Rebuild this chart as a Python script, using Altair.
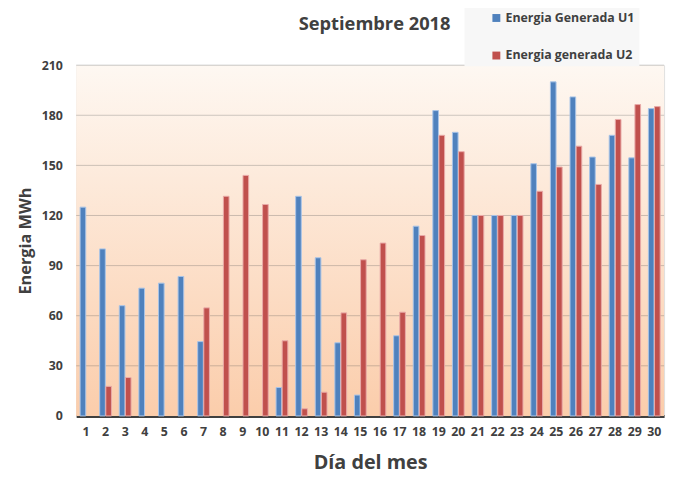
import altair as alt
import pandas as pd

title_text = "Septiembre 2018"
series = ["Energia Generada U1", "Energia generada U2"]
days = list(range(1, 31))
u1 = [125, 100, 66, 76.5, 79.5, 83.5, 44.5, None, None, None,
      17, 131.5, 94.7, 43.8, 12.5, None, 48, 113.6, 182.8, 169.8,
      120, 120, 120, 151, 200, 191, 155, 168, 154.5, 184]
u2 = [None, 17.7, 23, None, None, None, 64.7, 131.5, 144, 126.6,
      45, 4.3, 14.2, 61.7, 93.5, 103.5, 62.1, 108, 168, 158.2,
      120, 120, 120, 134.5, 149, 161.5, 138.6, 177.5, 186.4, 185.2]
y_ticks = [0, 30, 60, 90, 120, 150, 180, 210]

rows = []
for d, a, b in zip(days, u1, u2):
    if a is not None:
        rows.append({"day": d, "serie": series[0], "value": a})
    if b is not None:
        rows.append({"day": d, "serie": series[1], "value": b})
df = pd.DataFrame(rows)

FONT = "Open Sans"
TXT = "#404040"
W, H = 595, 355

yscale = alt.Scale(domain=[0, 210], nice=False)
yaxis = alt.Axis(title="Energia MWh", values=y_ticks, ticks=False, domain=False,
                 grid=False,
                 labelFont=FONT, labelFontSize=12.5, labelFontWeight="bold",
                 labelColor=TXT, labelPadding=14,
                 titleFont=FONT, titleFontSize=16.5, titleFontWeight="bold",
                 titleColor=TXT, titlePadding=8)

bg = alt.Chart(pd.DataFrame({"a": [0]})).mark_rect(
    color=alt.LinearGradient(
        gradient="linear",
        stops=[alt.GradientStop(offset=0, color="#fef8f2"),
               alt.GradientStop(offset=1, color="#fbcdab")],
        x1=0, x2=0, y1=0, y2=1)
).encode(x=alt.value(0), x2=alt.value(W), y=alt.value(0), y2=alt.value(H))

grid = alt.Chart(pd.DataFrame({"value": y_ticks[1:]})).mark_rule(
    color="#595959", opacity=0.3, strokeWidth=1
).encode(y=alt.Y("value:Q", scale=yscale, axis=yaxis))

bars = alt.Chart(df).mark_bar(strokeWidth=1).encode(
    x=alt.X("day:O", sort=days,
            scale=alt.Scale(domain=days, paddingInner=0.4, paddingOuter=0.2),
            axis=alt.Axis(title="Día del mes", labelAngle=0, ticks=False,
                          domainColor=TXT, domainWidth=3, grid=False,
                          labelFont=FONT, labelFontSize=12.5, labelFontWeight="bold",
                          labelColor=TXT, labelPadding=10,
                          titleFont=FONT, titleFontSize=20, titleFontWeight="bold",
                          titleColor=TXT, titlePadding=15)),
    xOffset=alt.XOffset("serie:N", sort=series,
                        scale=alt.Scale(domain=series, paddingInner=0.08)),
    y=alt.Y("value:Q", scale=yscale, axis=yaxis),
    color=alt.Color("serie:N",
                    scale=alt.Scale(domain=series, range=["#4f81bd", "#c0504d"]),
                    legend=alt.Legend(title=None, orient="none", legendX=393, legendY=-58,
                                      fillColor="#f7f7f7", padding=4, rowPadding=25,
                                      symbolType="square", symbolSize=64,
                                      symbolOffset=22, symbolStrokeWidth=0,
                                      labelFont=FONT, labelFontSize=12.5,
                                      labelFontWeight="bold", labelColor=TXT,
                                      labelOffset=3)),
    stroke=alt.Stroke("serie:N",
                      scale=alt.Scale(domain=series, range=["#a9c4e8", "#e9aaa8"]),
                      legend=None),
)

title = alt.Chart(pd.DataFrame({"t": [title_text]})).mark_text(
    font=FONT, fontSize=18.5, fontWeight="bold", color=TXT,
    align="center", baseline="alphabetic"
).encode(x=alt.value(302), y=alt.value(-36), text="t:N")

chart = alt.layer(bg, grid, bars, title).properties(
    width=W, height=H,
    autosize=alt.AutoSizeParams(type="none"),
    padding={"left": 69, "top": 55, "right": 7, "bottom": 64},
).configure_view(strokeWidth=0).configure(background="white")

chart.save("out.html", embed_options={"renderer": "svg", "actions": False})
